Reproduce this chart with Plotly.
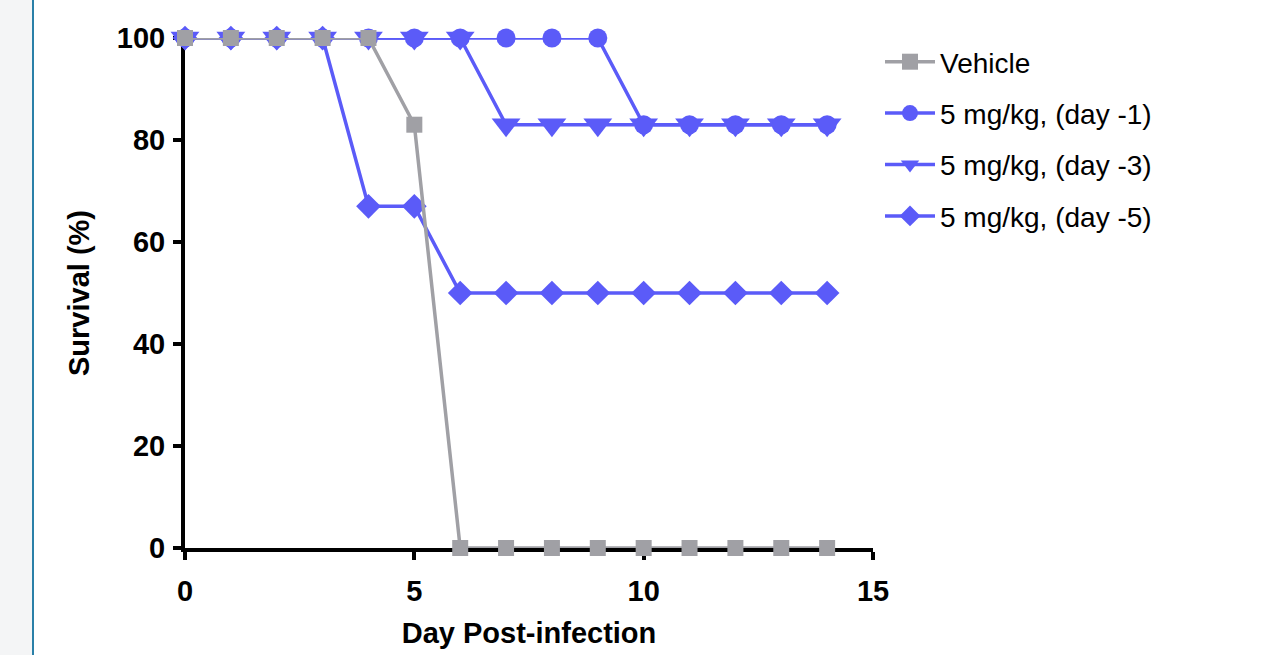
import plotly.graph_objects as go

days = list(range(0, 15))
vehicle = [100, 100, 100, 100, 100, 83, 0, 0, 0, 0, 0, 0, 0, 0, 0]
day_m1 = [100, 100, 100, 100, 100, 100, 100, 100, 100, 100, 83, 83, 83, 83, 83]
day_m3 = [100, 100, 100, 100, 100, 100, 100, 83, 83, 83, 83, 83, 83, 83, 83]
day_m5 = [100, 100, 100, 100, 67, 67, 50, 50, 50, 50, 50, 50, 50, 50, 50]

names = ["Vehicle", "5 mg/kg, (day -1)", "5 mg/kg, (day -3)", "5 mg/kg, (day -5)"]
x_ticks = [0, 5, 10, 15]
y_ticks = [0, 20, 40, 60, 80, 100]

BLUE = "#5b5bf8"
GREY = "#a0a0a5"
FONT = "Liberation Sans, Arial, sans-serif"

W, H = 1275, 655
L, R, T, B = 185, 402, 38, 107
pw, ph = W - L - R, H - T - B

fig = go.Figure()
# drawn bottom-to-top; legendrank puts Vehicle first
fig.add_trace(go.Scatter(x=days, y=day_m5, name=names[3], mode="lines+markers",
                         line=dict(color=BLUE, width=3.5),
                         marker=dict(symbol="diamond", size=19, color=BLUE),
                         cliponaxis=False, legendrank=4, legendgroup="g4"))
fig.add_trace(go.Scatter(x=days, y=day_m3, name=names[2], mode="lines+markers",
                         line=dict(color=BLUE, width=3.5),
                         marker=dict(symbol="triangle-down", size=25, color=BLUE),
                         cliponaxis=False, legendrank=3, legendgroup="g3"))
fig.add_trace(go.Scatter(x=days, y=day_m1, name=names[1], mode="lines+markers",
                         line=dict(color=BLUE, width=3.5),
                         marker=dict(symbol="circle", size=19, color=BLUE),
                         cliponaxis=False, legendrank=2, legendgroup="g2"))
fig.add_trace(go.Scatter(x=days, y=vehicle, name=names[0], mode="lines+markers",
                         line=dict(color=GREY, width=3.5),
                         marker=dict(symbol="square", size=16, color=GREY),
                         cliponaxis=False, legendrank=1, legendgroup="g1"))

axis_common = dict(showgrid=False, zeroline=False, showline=True, linecolor="black",
                   linewidth=4, ticks="outside", ticklen=8, tickwidth=4, tickcolor="black",
                   tickfont=dict(family=FONT, size=29, color="black", weight="bold"),
                   layer="below traces")

fig.update_layout(
    width=W, height=H,
    margin=dict(l=L, r=R, t=T, b=B, autoexpand=False),
    paper_bgcolor="white", plot_bgcolor="white",
    xaxis=dict(range=[0, 15], tickvals=x_ticks, ticklabelstandoff=6, **axis_common,
               title=dict(text="Day Post-infection", standoff=18,
                          font=dict(family=FONT, size=29, color="black", weight="bold"))),
    yaxis=dict(range=[0, 100], tickvals=y_ticks, ticklabelstandoff=2, **axis_common,
               title=dict(text="Survival (%)", standoff=20,
                          font=dict(family=FONT, size=29, color="black", weight="bold"))),
    legend=dict(x=(880 - L) / pw, y=1 + (T - 37) / ph, xanchor="left", yanchor="top",
                traceorder="grouped", tracegroupgap=12, itemwidth=50,
                font=dict(family=FONT, size=28, color="black"),
                bgcolor="rgba(0,0,0,0)"),
    showlegend=True,
    shapes=[
        dict(type="rect", xref="paper", yref="paper",
             x0=(0 - L) / pw, x1=(32 - L) / pw, y0=-B / ph, y1=1 + T / ph,
             fillcolor="#f4f5f6", line=dict(width=0), layer="below"),
        dict(type="line", xref="paper", yref="paper",
             x0=(33 - L) / pw, x1=(33 - L) / pw, y0=-B / ph, y1=1 + T / ph,
             line=dict(color="#2a80a8", width=2), layer="below"),
    ],
)

fig.write_html("out.html")
